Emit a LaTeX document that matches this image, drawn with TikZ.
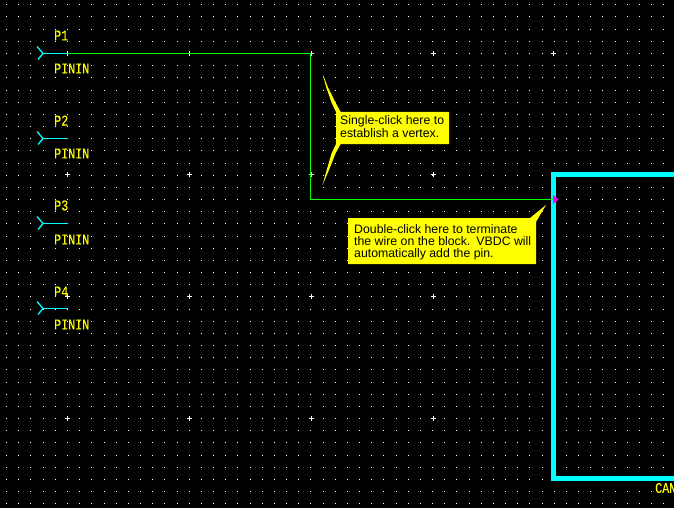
\documentclass[tikz,border=0pt]{standalone}
\usepackage{fontspec}
\setmainfont{Liberation Sans}
\newfontfamily\cadfont[FakeStretch=0.78,FakeBold=0.15]{Liberation Mono}
\definecolor{cadyellow}{RGB}{255,255,0}
\definecolor{cadcyan}{RGB}{0,255,255}
\definecolor{cadgreen}{RGB}{0,255,0}
\definecolor{cadmag}{RGB}{255,0,255}
\tikzset{
  cadlabel/.style={text=cadyellow,font=\cadfont\fontsize{15}{15}\selectfont,anchor=west,inner sep=0pt},
  calltext/.style={text=black,font=\fontsize{12.3}{12.3}\selectfont,anchor=west,inner sep=0pt},
  pinline/.style={draw=cadcyan,line width=1.3pt},
  wire/.style={draw=cadgreen,line width=1.3pt},
  griddot/.style={fill=white},
  callfill/.style={fill=cadyellow},
}
\begin{document}
\begin{tikzpicture}[x=1pt,y=-1pt]
\useasboundingbox (0,0) rectangle (674,508);
\clip (0,0) rectangle (674,508);
\fill[black] (0,0) rectangle (674,508);
% grid dots
\foreach \i in {-5,...,50}{
  \pgfmathsetmacro{\cx}{round(67+12.17*\i)}
  \foreach \j in {-4,...,37}{
    \pgfmathsetmacro{\cy}{round(53+12.17*\j)}
    \fill[griddot] (\cx-0.15,\cy-0.15) rectangle ++(1.3,1.3);
  }
}
% major crosses
\foreach \cx in {67,189,311,433,553}{
  \foreach \cy in {53,174,296,418}{
    \fill[griddot] (\cx-2,\cy-0.1) rectangle ++(5,1.2);
    \fill[griddot] (\cx-0.1,\cy-2) rectangle ++(1.2,5);
  }
}
% pins
\foreach \n/\py/\ly/\my in {1/53.5/35.5/68.5,2/138.5/120.5/153.5,3/223.5/205.5/239.5,4/308.5/291.5/324.5}{
  \coordinate (pin\n) at (43,\py);
  \coordinate (pinup\n) at (37,\py-7);
  \coordinate (pindn\n) at (38,\py+6);
  \coordinate (pinend\n) at (68,\py);
  \draw[pinline] (pinup\n) -- (pin\n) -- (pindn\n);
  \draw[pinline] (pin\n) -- (pinend\n);
  \node[cadlabel] (name\n) at (54,\ly) {P\n};
  \node[cadlabel] (type\n) at (54,\my) {PININ};
}
% block
\coordinate (blockTL) at (553.5,174.5);
\coordinate (blockBL) at (553.5,478.5);
\coordinate (blockTR) at (690,174.5);
\coordinate (blockBR) at (690,478.5);
\draw[draw=cadcyan,line width=5pt,line join=miter] (blockTR) -- (blockTL) -- (blockBL) -- (blockBR);
% wire
\coordinate (vertexA) at (310.5,53.5);
\coordinate (vertexB) at (310.5,199.5);
\coordinate (wireEnd) at (553,199.5);
\draw[wire] (pinend1) -- (vertexA) -- (vertexB) -- (wireEnd);
\draw[pinline] (pin1) -- (pinend1);
% pin marker
\fill[cadmag] (553,195) -- (558.5,199.5) -- (553,204) -- cycle;
% callout 1
\fill[callfill] (322.7,74) -- (327.7,86.7) -- (335.7,103) -- (340.7,112) -- (449,112) -- (449,144) -- (340.7,144)
  -- (335.7,153) -- (329,170) -- (322.3,185.5) -- (326.7,170) -- (331.7,153) -- (336,144) -- (336,112)
  -- (331.7,103) -- (326,86.7) -- cycle;
\node[calltext] (note1a) at (340,121.5) {Single-click here to};
\node[calltext] (note1b) at (340,133.5) {establish a vertex.};
% callout 2
\fill[callfill] (348,218) -- (530,218) -- (546,205) -- (536,222) -- (536,264) -- (348,264) -- cycle;
\node[calltext] (note2a) at (354,229.5) {Double-click here to terminate};
\node[calltext] (note2b) at (354,241.5) {the wire on the block.\hspace{1.5pt} VBDC will};
\node[calltext] (note2c) at (354,254) {automatically add the pin.};
% block name
\node[cadlabel] (blockname) at (655,488) {CAN};
\end{tikzpicture}
\end{document}
